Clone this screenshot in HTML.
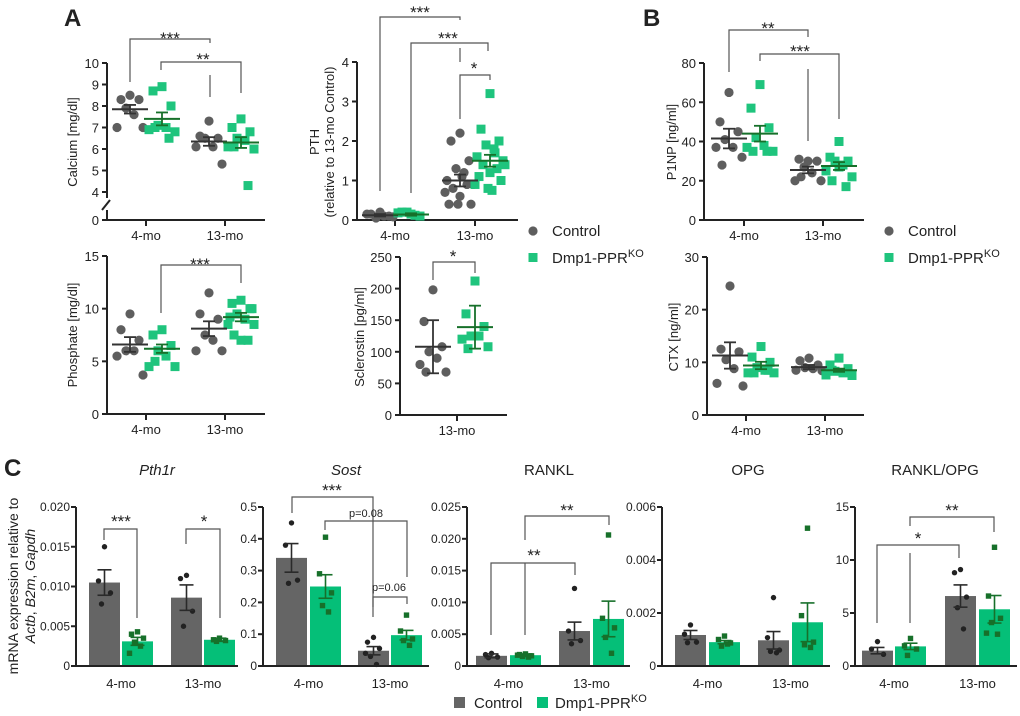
<!DOCTYPE html>
<html><head><meta charset="utf-8">
<style>
html,body{margin:0;padding:0;background:#fff;}
svg{display:block;font-family:"Liberation Sans",Arial,sans-serif;}
</style></head>
<body>
<svg id="fig" width="1020" height="716" viewBox="0 0 1020 716" xmlns="http://www.w3.org/2000/svg">
<rect x="0" y="0" width="1020" height="716" fill="#fff"/>
</svg>
<script>
// ---------- DATA ----------
const ageCats = ["4-mo", "13-mo"];
const calCtrl4 = [8.5, 8.3, 8.3, 7.9, 7.6, 7.0, 7.0];
const calKo4 = [8.9, 8.7, 8.0, 7.1, 7.0, 6.9, 6.8, 7.0, 6.5];
const calCtrl13 = [7.3, 6.6, 6.5, 6.5, 6.1, 6.1, 5.3];
const calKo13 = [7.4, 7.0, 6.8, 6.5, 6.4, 6.1, 6.0, 6.1, 4.3];
const calMeans = [7.85, 7.4, 6.35, 6.3];
const calErr = [0.2, 0.3, 0.2, 0.25];
const calTicks = [0, 4, 5, 6, 7, 8, 9, 10];
const pthCtrl4 = [0.2, 0.15, 0.1, 0.05, 0.1, 0.15, 0.08];
const pthKo4 = [0.15, 0.2, 0.1, 0.2, 0.12, 0.18];
const pthCtrl13 = [2.2, 2.0, 1.5, 1.3, 1.2, 1.0, 0.9, 0.8, 0.9, 0.6, 0.4, 0.4, 0.4, 1.1, 0.7];
const pthKo13 = [3.2, 2.3, 2.0, 1.9, 1.8, 1.6, 1.5, 1.4, 1.3, 1.2, 1.1, 1.0, 0.8, 0.75, 0.9, 1.4, 1.7];
const pthMeans = [0.12, 0.14, 1.0, 1.5];
const pthErr = [0.03, 0.03, 0.15, 0.15];
const pthTicks = [0, 1, 2, 3, 4];
const phoCtrl4 = [9.5, 8.0, 7.0, 6.0, 6.0, 5.5, 3.7];
const phoKo4 = [8.0, 7.5, 6.5, 6.0, 5.5, 4.5, 4.5, 5.0];
const phoCtrl13 = [11.5, 9.5, 9.0, 7.5, 7.0, 6.0, 6.0];
const phoKo13 = [10.8, 10.5, 10.0, 9.5, 9.0, 8.5, 8.5, 7.5, 7.0, 7.0, 9.2, 10.0];
const phoMeans = [6.6, 6.2, 8.1, 9.2];
const phoErr = [0.7, 0.4, 0.7, 0.4];
const phoTicks = [0, 5, 10, 15];
const sclCtrl = [198, 148, 108, 100, 90, 80, 68, 68];
const sclKo = [212, 160, 140, 125, 125, 120, 108, 105];
const sclMeans = [108, 139];
const sclErr = [42, 34];
const sclTicks = [0, 50, 100, 150, 200, 250];
const p1Ctrl4 = [65, 50, 45, 41, 37, 37, 32, 28];
const p1Ko4 = [69, 57, 47, 42, 38, 37, 35, 35, 35];
const p1Ctrl13 = [30, 31, 30, 27, 24, 20, 20, 22];
const p1Ko13 = [40, 32, 30, 30, 28, 25, 22, 20, 17, 27];
const p1Means = [41.5, 44, 25.5, 27.5];
const p1Err = [5, 4, 1.7, 2];
const p1Ticks = [0, 20, 40, 60, 80];
const ctxCtrl4 = [24.5, 12.5, 12, 10.5, 8.8, 6, 5.5];
const ctxKo4 = [13, 11, 10, 9, 8.5, 8, 8, 8, 8.5];
const ctxCtrl13 = [10.8, 10.3, 9.5, 9, 8.8, 8.5, 8.4];
const ctxKo13 = [10.8, 9.5, 8.8, 8.3, 8, 7.6, 7.5, 8.5];
const ctxMeans = [11.3, 9.4, 9.1, 8.5];
const ctxErr = [2.5, 0.7, 0.4, 0.3];
const ctxTicks = [0, 10, 20, 30];
const pth1rBars = [0.0105, 0.0031, 0.0086, 0.0033];
const pth1rErr = [0.0016, 0.0005, 0.0016, 0.0002];
const pth1rPts = [[0.015, 0.0107, 0.0092, 0.0078], [0.0043, 0.004, 0.0035, 0.003, 0.0025, 0.0016], [0.0114, 0.011, 0.0069, 0.005], [0.0035, 0.0033, 0.0032, 0.0031]];
const pth1rTicks = ["0", "0.005", "0.010", "0.015", "0.020"];
const sostBars = [0.34, 0.25, 0.048, 0.097];
const sostErr = [0.045, 0.037, 0.013, 0.015];
const sostPts = [[0.45, 0.38, 0.27, 0.26], [0.405, 0.29, 0.23, 0.19, 0.17], [0.09, 0.075, 0.055, 0.03, 0.005, 0.04], [0.16, 0.11, 0.085, 0.08, 0.065]];
const sostTicks = ["0", "0.1", "0.2", "0.3", "0.4", "0.5"];
const ranklBars = [0.0016, 0.0017, 0.0055, 0.0074];
const ranklErr = [0.0003, 0.0002, 0.0014, 0.0028];
const ranklPts = [[0.002, 0.0018, 0.0014, 0.0013], [0.0019, 0.0018, 0.0016, 0.0015, 0.0014, 0.0017], [0.0122, 0.0055, 0.004, 0.0035], [0.0206, 0.0075, 0.006, 0.0045, 0.002]];
const ranklTicks = ["0", "0.005", "0.010", "0.015", "0.020", "0.025"];
const opgBars = [0.00117, 0.0009, 0.00097, 0.00165];
const opgErr = [0.00017, 0.00006, 0.00033, 0.00073];
const opgPts = [[0.00155, 0.0012, 0.0009, 0.00088], [0.00113, 0.001, 0.00087, 0.00075, 0.00083], [0.00258, 0.00107, 0.0006, 0.00055, 0.0005], [0.0052, 0.0019, 0.0009, 0.0008, 0.0007]];
const opgTicks = ["0", "0.002", "0.004", "0.006"];
const ratioBars = [1.45, 1.85, 6.6, 5.35];
const ratioErr = [0.3, 0.3, 1.05, 1.3];
const ratioPts = [[2.3, 1.6, 1.1], [2.6, 1.9, 1.6, 1.0], [9.1, 8.8, 6.5, 5.5, 3.5], [11.2, 6.6, 4.5, 4.1, 3.0, 3.1]];
const ratioTicks = ["0", "5", "10", "15"];

// ---------- DRAWING ----------
const NS = "http://www.w3.org/2000/svg";
const svg = document.getElementById("fig");
const GRAY = "#5e5e5e", GREEN = "#1fc47d", DKGREEN = "#17702a", BARGRAY = "#656565", BARGREEN = "#05bf78";

function mk(tag, attrs, name, parent) {
  const el = document.createElementNS(NS, tag);
  for (const k in attrs) el.setAttribute(k, attrs[k]);
  
  
  (parent || svg).appendChild(el);
  return el;
}
function txt(x, y, s, name, o) {
  o = o || {};
  const el = mk("text", {x: x, y: y, "font-size": o.size || 13, "text-anchor": o.anchor || "middle", fill: o.fill || "#222", "font-weight": o.weight || "normal", "font-style": o.style || "normal"}, name);
  if (o.rot) el.setAttribute("transform", "rotate(-90 " + x + " " + y + ")");
  el.textContent = s;
  return el;
}
function line(x1, y1, x2, y2, name, c, w) {
  return mk("line", {x1: x1, y1: y1, x2: x2, y2: y2, stroke: c || "#222", "stroke-width": w || 1.3}, name);
}
function bracket(x1, y1a, yTop, x2, y2b, name) {
  return mk("polyline", {points: x1 + "," + y1a + " " + x1 + "," + yTop + " " + x2 + "," + yTop + " " + x2 + "," + y2b, fill: "none", stroke: "#555", "stroke-width": 1.2}, name);
}
const jit = [0, -9, 9, -4, 4, -13, 13, -7, 7, 0, -11, 11, -2, 2, -15, 15, 5];

function scatterPanel(p) {
  const yf = p.yf;
  if (p.broken) {
    line(p.ax, p.ytop, p.ax, yf(4) + 6, p.key + "-y-axis", "#222", 2);
    line(p.ax, p.y0 - 10, p.ax, p.y0, p.key + "-y-axis-lower", "#222", 2);
    line(p.ax - 5, p.y0 - 10, p.ax + 3, p.y0 - 20, p.key + "-axis-break", "#222", 2);
  } else {
    line(p.ax, p.ytop, p.ax, p.y0, p.key + "-y-axis", "#222", 2);
  }
  line(p.ax, p.y0, p.xEnd, p.y0, p.key + "-x-axis", "#222", 2);
  p.ticks.forEach(t => {
    line(p.ax - 5, yf(t), p.ax, yf(t), p.key + "-y-tick", "#222", 2);
    txt(p.ax - 8, yf(t) + 5, String(t), p.key + "-y-tick-label", {anchor: "end", size: 13});
  });
  p.cats.forEach((c, i) => {
    line(p.catX[i], p.y0, p.catX[i], p.y0 + 6, p.key + "-x-tick", "#222", 2);
    txt(p.catX[i], p.y0 + 20, c, p.key + "-x-tick-label", {size: 13});
  });
  p.titles.forEach((t, i) => txt(p.titleX[i], p.titleY, t, p.key + "-y-axis-title", {rot: true, size: 13}));
  p.series.forEach((vals, gi) => {
    const ko = p.isKo[gi];
    const cx = p.groupX[gi];
    vals.forEach((v, i) => {
      const x = cx + jit[i % jit.length];
      if (ko) mk("rect", {x: x - 4.5, y: yf(v) - 4.5, width: 9, height: 9, fill: GREEN}, p.key + "-ko-point");
      else mk("circle", {cx: x, cy: yf(v), r: 4.6, fill: GRAY}, p.key + "-control-point");
    });
  });
  p.series.forEach((vals, gi) => {
    const ko = p.isKo[gi];
    const cx = p.groupX[gi];
    const c = ko ? DKGREEN : "#333";
    const m = p.means[gi], e = p.errs[gi];
    line(cx - 18, yf(m), cx + 18, yf(m), p.key + "-mean-line", c, 2);
    line(cx, yf(m - e), cx, yf(m + e), p.key + "-error-bar", c, 1.8);
    line(cx - 6, yf(m + e), cx + 6, yf(m + e), p.key + "-error-cap", c, 1.8);
    line(cx - 6, yf(m - e), cx + 6, yf(m - e), p.key + "-error-cap", c, 1.8);
  });
}
function lin(vmax, ytop, y0) { return v => y0 - (v / vmax) * (y0 - ytop); }

const calY = v => v >= 4 ? 63 + (10 - v) * 21.5 : 220 - v * ((220 - 198) / 4);
scatterPanel({key: "calcium", yf: calY, broken: true, ax: 107, ytop: 63, y0: 220, xEnd: 265, ticks: calTicks, cats: ageCats, catX: [146, 225],
  groupX: [130, 162, 209, 241], isKo: [0, 1, 0, 1], series: [calCtrl4, calKo4, calCtrl13, calKo13], means: calMeans, errs: calErr,
  titles: ["Calcium [mg/dl]"], titleX: [77], titleY: 142});
scatterPanel({key: "pth", yf: lin(4, 62, 220), ax: 357, ytop: 62, y0: 220, xEnd: 518, ticks: pthTicks, cats: ageCats, catX: [395, 475],
  groupX: [380, 411, 460, 490], isKo: [0, 1, 0, 1], series: [pthCtrl4, pthKo4, pthCtrl13, pthKo13], means: pthMeans, errs: pthErr,
  titles: ["PTH", "(relative to 13-mo Control)"], titleX: [319, 334], titleY: 142});
scatterPanel({key: "phosphate", yf: lin(15, 256, 414), ax: 107, ytop: 256, y0: 414, xEnd: 265, ticks: phoTicks, cats: ageCats, catX: [146, 225],
  groupX: [130, 162, 209, 241], isKo: [0, 1, 0, 1], series: [phoCtrl4, phoKo4, phoCtrl13, phoKo13], means: phoMeans, errs: phoErr,
  titles: ["Phosphate [mg/dl]"], titleX: [77], titleY: 335});
scatterPanel({key: "sclerostin", yf: lin(250, 257, 415), ax: 400, ytop: 257, y0: 415, xEnd: 507, ticks: sclTicks, cats: ["13-mo"], catX: [457],
  groupX: [433, 475], isKo: [0, 1], series: [sclCtrl, sclKo], means: sclMeans, errs: sclErr,
  titles: ["Sclerostin [pg/ml]"], titleX: [364], titleY: 337});
scatterPanel({key: "p1np", yf: lin(80, 63, 220), ax: 704, ytop: 63, y0: 220, xEnd: 864, ticks: p1Ticks, cats: ageCats, catX: [744, 823],
  groupX: [729, 760, 808, 839], isKo: [0, 1, 0, 1], series: [p1Ctrl4, p1Ko4, p1Ctrl13, p1Ko13], means: p1Means, errs: p1Err,
  titles: ["P1NP [ng/ml]"], titleX: [676], titleY: 142});
scatterPanel({key: "ctx", yf: lin(30, 257, 415), ax: 707, ytop: 257, y0: 415, xEnd: 864, ticks: ctxTicks, cats: ageCats, catX: [746, 825],
  groupX: [730, 761, 809, 839], isKo: [0, 1, 0, 1], series: [ctxCtrl4, ctxKo4, ctxCtrl13, ctxKo13], means: ctxMeans, errs: ctxErr,
  titles: ["CTX [ng/ml]"], titleX: [678], titleY: 337});

function barPanel(p) {
  const y0 = 666, ytop = 507;
  const vmax = parseFloat(p.ticks[p.ticks.length - 1]);
  const yf = lin(vmax, ytop, y0);
  const bw = 31;
  p.vals.forEach((v, i) => {
    const x = p.ax + p.off[i];
    const ko = i % 2 === 1;
    mk("rect", {x: x, y: yf(v), width: bw, height: y0 - yf(v), fill: ko ? BARGREEN : BARGRAY}, p.key + (ko ? "-ko-bar" : "-control-bar"));
  });
  p.vals.forEach((v, i) => {
    const cx = p.ax + p.off[i] + bw / 2;
    const ko = i % 2 === 1;
    const c = ko ? DKGREEN : "#2a2a2a";
    p.pts[i].forEach((pv, j) => {
      const x = cx + [0, -6, 6, -3, 3, -8, 8][j % 7];
      if (ko) mk("rect", {x: x - 2.7, y: yf(pv) - 2.7, width: 5.4, height: 5.4, fill: DKGREEN}, p.key + "-ko-point");
      else mk("circle", {cx: x, cy: yf(pv), r: 2.7, fill: "#222"}, p.key + "-control-point");
    });
    const e = p.err[i];
    line(cx, yf(v - e), cx, yf(v + e), p.key + "-error-bar", c, 1.6);
    line(cx - 7, yf(v + e), cx + 7, yf(v + e), p.key + "-error-cap", c, 1.6);
    line(cx - 7, yf(v - e), cx + 7, yf(v - e), p.key + "-error-cap", c, 1.6);
  });
  line(p.ax, ytop, p.ax, y0, p.key + "-y-axis", "#222", 2);
  line(p.ax, y0, p.ax + p.len, y0, p.key + "-x-axis", "#222", 2);
  p.ticks.forEach(t => {
    const v = parseFloat(t);
    line(p.ax - 5, yf(v), p.ax, yf(v), p.key + "-y-tick", "#222", 2);
    txt(p.ax - 6, yf(v) + 4, t, p.key + "-y-tick-label", {anchor: "end", size: 12});
  });
  ageCats.forEach((c, i) => {
    const cx = p.ax + (p.off[2 * i] + p.off[2 * i + 1] + bw) / 2;
    txt(cx, 688, c, p.key + "-x-tick-label", {size: 13});
  });
  txt(p.titleX, 475, p.title, p.key + "-title", {size: 15, style: p.italic ? "italic" : "normal"});
}
barPanel({key: "pth1r", ax: 76, len: 162, off: [13, 46, 95, 128], vals: pth1rBars, err: pth1rErr, pts: pth1rPts, ticks: pth1rTicks, title: "Pth1r", italic: true, titleX: 157});
barPanel({key: "sost", ax: 263, len: 166, off: [13, 47, 95, 128], vals: sostBars, err: sostErr, pts: sostPts, ticks: sostTicks, title: "Sost", italic: true, titleX: 346});
barPanel({key: "rankl", ax: 467, len: 163, off: [9, 43, 92, 126], vals: ranklBars, err: ranklErr, pts: ranklPts, ticks: ranklTicks, title: "RANKL", italic: false, titleX: 549});
barPanel({key: "opg", ax: 662, len: 168, off: [13, 47, 96, 130], vals: opgBars, err: opgErr, pts: opgPts, ticks: opgTicks, title: "OPG", italic: false, titleX: 748});
barPanel({key: "rankl-opg", ax: 855, len: 162, off: [7, 40, 90, 124], vals: ratioBars, err: ratioErr, pts: ratioPts, ticks: ratioTicks, title: "RANKL/OPG", italic: false, titleX: 935});

txt(18, 586, "mRNA expression relative to", "c-y-axis-title", {rot: true, size: 14});
const t2 = txt(35, 586, "", "c-y-axis-title-genes", {rot: true, size: 14, style: "italic"});
t2.innerHTML = "Actb<tspan font-style='normal'>, </tspan>B2m<tspan font-style='normal'>, </tspan>Gapdh";

txt(64, 26, "A", "panel-label-a", {size: 24, weight: "bold", anchor: "start"});
txt(643, 26, "B", "panel-label-b", {size: 24, weight: "bold", anchor: "start"});
txt(4, 476, "C", "panel-label-c", {size: 24, weight: "bold", anchor: "start"});

function star(x, y, s, name) { txt(x, y, s, name, {size: 17}); }
bracket(130, 82, 39, 210, 43, "calcium-bracket-ctrl"); star(170, 44, "***", "calcium-sig-ctrl");
line(210, 75, 210, 97, "calcium-bracket-stem", "#555", 1.2);
bracket(161, 70, 62, 241, 93, "calcium-bracket-ko"); star(203, 65, "**", "calcium-sig-ko");
bracket(380, 191, 17, 460, 20, "pth-bracket-ctrl"); star(420, 18, "***", "pth-sig-ctrl");
bracket(411, 193, 43, 488, 51, "pth-bracket-ko"); star(448, 44, "***", "pth-sig-ko");
line(460, 48, 460, 62, "pth-bracket-stem", "#555", 1.2);
bracket(460, 119, 75, 490, 80, "pth-bracket-13mo"); star(474, 74, "*", "pth-sig-13mo");
bracket(161, 313, 265, 241, 283, "phosphate-bracket-ko"); star(200, 270, "***", "phosphate-sig-ko");
bracket(433, 280, 262, 475, 273, "sclerostin-bracket"); star(453, 262, "*", "sclerostin-sig");
bracket(729, 72, 30, 808, 37, "p1np-bracket-ctrl"); star(768, 34, "**", "p1np-sig-ctrl");
bracket(760, 61, 54, 839, 119, "p1np-bracket-ko"); star(800, 57, "***", "p1np-sig-ko");
line(808, 69, 808, 141, "p1np-bracket-stem", "#555", 1.2);
bracket(104, 540, 529, 137, 618, "pth1r-bracket-4mo"); star(121, 527, "***", "pth1r-sig-4mo");
bracket(186, 544, 529, 220, 618, "pth1r-bracket-13mo"); star(204, 527, "*", "pth1r-sig-13mo");
bracket(292, 513, 497, 373, 617, "sost-bracket-ctrl"); star(332, 496, "***", "sost-sig-ctrl");
bracket(325, 530, 521, 407, 577, "sost-bracket-ko"); txt(366, 517, "p=0.08", "sost-p-ko", {size: 11});
bracket(373, 607, 597, 407, 604, "sost-bracket-13mo"); txt(389, 591, "p=0.06", "sost-p-13mo", {size: 11});
bracket(525, 540, 516, 609, 525, "rankl-bracket-ko"); star(567, 516, "**", "rankl-sig-ko");
bracket(491, 635, 563, 575, 575, "rankl-bracket-ctrl"); star(534, 561, "**", "rankl-sig-ctrl");
line(525, 563, 525, 635, "rankl-bracket-stem", "#555", 1.2);
bracket(910, 526, 517, 994, 532, "ratio-bracket-ko"); star(952, 516, "**", "ratio-sig-ko");
bracket(877, 623, 545, 959, 558, "ratio-bracket-ctrl"); star(918, 544, "*", "ratio-sig-ctrl");
line(910, 553, 910, 623, "ratio-bracket-stem", "#555", 1.2);

function legend(x, y1, y2, key) {
  mk("circle", {cx: x, cy: y1 - 5, r: 4.6, fill: GRAY}, key + "-control-marker");
  txt(x + 19, y1, "Control", key + "-control-label", {anchor: "start", size: 15});
  mk("rect", {x: x - 4.5, y: y2 - 10, width: 9, height: 9, fill: GREEN}, key + "-ko-marker");
  const t = txt(x + 19, y2, "", key + "-ko-label", {anchor: "start", size: 15});
  t.innerHTML = "Dmp1-PPR<tspan dy='-6' font-size='11'>KO</tspan>";
}
legend(533, 236, 263, "legend-a");
legend(889, 236, 263, "legend-b");
mk("rect", {x: 454, y: 697, width: 11, height: 11, fill: BARGRAY}, "legend-c-control-marker");
txt(474, 708, "Control", "legend-c-control-label", {anchor: "start", size: 15});
mk("rect", {x: 537, y: 697, width: 11, height: 11, fill: BARGREEN}, "legend-c-ko-marker");
const lc = txt(555, 708, "", "legend-c-ko-label", {anchor: "start", size: 15});
lc.innerHTML = "Dmp1-PPR<tspan dy='-6' font-size='11'>KO</tspan>";
</script>
</body></html>
